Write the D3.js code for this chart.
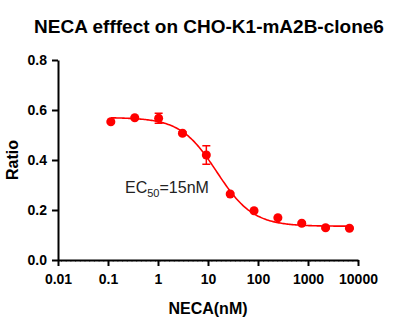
<!DOCTYPE html>
<html>
<head>
<meta charset="utf-8">
<script src="https://cdn.jsdelivr.net/npm/d3@7"></script>
<style>
  body { margin: 0; background: #fff; }
  text { font-family: "Liberation Sans", Arial, sans-serif; }
</style>
</head>
<body>
<div class="chart"></div>
<script>
var svgWidth = 420;
var svgHeight = 322;

var margin = { top: 60, right: 62, bottom: 62, left: 58 };
var width = svgWidth - margin.left - margin.right;
var height = svgHeight - margin.top - margin.bottom;

// NECA concentrations (nM), 3-fold dilution series
var concentrations = [0.114, 0.343, 1.03, 3.09, 9.26, 27.8, 83.3, 250, 750, 2250, 6750];
// mean ratio at each concentration
var ratios = [0.553, 0.569, 0.567, 0.507, 0.420, 0.264, 0.197, 0.169, 0.147, 0.129, 0.127];
// SEM for each point
var errors = [0.004, 0.004, 0.020, 0.006, 0.037, 0.004, 0.004, 0.004, 0.004, 0.004, 0.004];

var xTicks = [0.01, 0.1, 1, 10, 100, 1000, 10000];
var xTickLabels = ["0.01", "0.1", "1", "10", "100", "1000", "10000"];
var yTicks = [0.0, 0.2, 0.4, 0.6, 0.8];

// four-parameter logistic fit
var fitTop = 0.570;
var fitBottom = 0.135;
var ec50 = 15;
var hillSlope = 1.2;

var data = concentrations.map((c, i) => ({ conc: c, ratio: ratios[i], err: errors[i] }));

var svg = d3
  .select(".chart")
  .append("svg")
  .attr("width", svgWidth)
  .attr("height", svgHeight);

var chartGroup = svg
  .append("g")
  .attr("transform", `translate(${margin.left}, ${margin.top})`);

var xScale = d3.scaleLog().domain([0.01, 10000]).range([0, width]);
var yScale = d3.scaleLinear().domain([0, 0.8]).range([height, 0]);

var red = "#ff0000";

// title
svg.append("text")
  .attr("x", 209)
  .attr("y", 33)
  .attr("text-anchor", "middle")
  .style("font-size", "19px")
  .style("font-weight", "bold")
  .text("NECA efffect on CHO-K1-mA2B-clone6");

// dotted minor line under x axis
chartGroup.append("line")
  .attr("x1", xScale(0.01) + 3)
  .attr("x2", xScale(10000))
  .attr("y1", height + 1.5)
  .attr("y2", height + 1.5)
  .attr("stroke", "#9a9a9a")
  .attr("stroke-width", 1)
  .attr("stroke-dasharray", "1,3.7");

// axes
var bottomAxis = d3.axisBottom(xScale)
  .tickValues(xTicks)
  .tickFormat((d, i) => xTickLabels[i])
  .tickSize(6)
  .tickSizeOuter(0)
  .tickPadding(8);

var leftAxis = d3.axisLeft(yScale)
  .tickValues(yTicks)
  .tickFormat(d3.format(".1f"))
  .tickSize(6)
  .tickSizeOuter(0)
  .tickPadding(5);

var xAxisG = chartGroup.append("g")
  .attr("transform", `translate(0,${height})`)
  .call(bottomAxis);

var yAxisG = chartGroup.append("g").call(leftAxis);

[xAxisG, yAxisG].forEach((g) => {
  g.select(".domain").attr("stroke", "#000").attr("stroke-width", 2);
  g.selectAll(".tick line").attr("stroke", "#000").attr("stroke-width", 2);
  g.selectAll(".tick text")
    .attr("fill", "#000")
    .style("font-size", "14px")
    .style("font-weight", "bold")
    .style("font-family", "'Liberation Sans', Arial, sans-serif");
});

// axis labels
chartGroup.append("text")
  .attr("x", width / 2)
  .attr("y", height + 54)
  .attr("text-anchor", "middle")
  .style("font-size", "16px")
  .style("font-weight", "bold")
  .text("NECA(nM)");

chartGroup.append("text")
  .attr("transform", "rotate(-90)")
  .attr("x", -height / 2)
  .attr("y", -40)
  .attr("text-anchor", "middle")
  .style("font-size", "16px")
  .style("font-weight", "bold")
  .text("Ratio");

// fitted curve
var curveX = d3.range(0, 201).map((i) => {
  var lo = Math.log10(concentrations[0]);
  var hi = Math.log10(concentrations[concentrations.length - 1]);
  return Math.pow(10, lo + (hi - lo) * i / 200);
});
var fit = (x) => fitBottom + (fitTop - fitBottom) / (1 + Math.pow(x / ec50, hillSlope));

chartGroup.append("path")
  .datum(curveX)
  .attr("fill", "none")
  .attr("stroke", red)
  .attr("stroke-width", 1.6)
  .attr("d", d3.line().x((d) => xScale(d)).y((d) => yScale(fit(d))));

// error bars
var errGroup = chartGroup.selectAll(".err")
  .data(data)
  .enter()
  .append("g")
  .attr("class", "err")
  .attr("stroke", red)
  .attr("stroke-width", 1.5);

errGroup.append("line")
  .attr("x1", (d) => xScale(d.conc))
  .attr("x2", (d) => xScale(d.conc))
  .attr("y1", (d) => yScale(d.ratio + d.err))
  .attr("y2", (d) => yScale(d.ratio - d.err));

errGroup.append("line")
  .attr("x1", (d) => xScale(d.conc) - 4)
  .attr("x2", (d) => xScale(d.conc) + 4)
  .attr("y1", (d) => yScale(d.ratio + d.err))
  .attr("y2", (d) => yScale(d.ratio + d.err));

errGroup.append("line")
  .attr("x1", (d) => xScale(d.conc) - 4)
  .attr("x2", (d) => xScale(d.conc) + 4)
  .attr("y1", (d) => yScale(d.ratio - d.err))
  .attr("y2", (d) => yScale(d.ratio - d.err));

// points
chartGroup.selectAll("circle")
  .data(data)
  .enter()
  .append("circle")
  .attr("cx", (d) => xScale(d.conc))
  .attr("cy", (d) => yScale(d.ratio))
  .attr("r", 4.5)
  .attr("fill", red);

// EC50 annotation
var ec = chartGroup.append("text")
  .attr("x", 125 - margin.left)
  .attr("y", 193 - margin.top)
  .style("font-size", "16px")
  .attr("fill", "#222");
ec.append("tspan").text("EC");
ec.append("tspan").attr("dy", 4).style("font-size", "11px").text("50");
ec.append("tspan").attr("dy", -4).text("=" + ec50 + "nM");
</script>
</body>
</html>
